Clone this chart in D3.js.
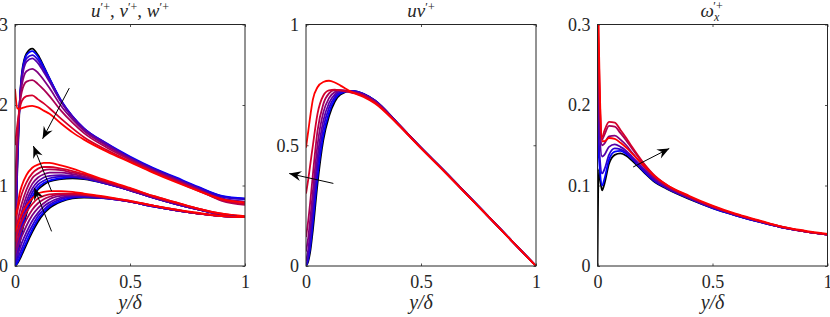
<!DOCTYPE html>
<html>
<head>
<meta charset="utf-8">
<script src="https://cdn.jsdelivr.net/npm/d3@7"></script>
<style>
body { margin: 0; background: #fff; }
svg { display: block; }
text { font-family: "Liberation Serif", "Times New Roman", "DejaVu Serif", serif; fill: #262626; }
</style>
</head>
<body>
<svg id="svg1" width="830" height="317"></svg>
<script>
// wall-normal positions y/delta used for the sampled profiles
var xGrid = [0, 0.01, 0.02, 0.03, 0.05, 0.075, 0.1, 0.125, 0.15, 0.2, 0.25, 0.3, 0.4, 0.5, 0.6, 0.7, 0.8, 0.9, 1];
var wGrid = [0, 0.005, 0.01, 0.02, 0.03, 0.05, 0.075, 0.1, 0.125, 0.15, 0.2, 0.25, 0.3, 0.4, 0.5, 0.6, 0.7, 0.8, 0.9, 1];

// u'+ (one row per case, black first then blue -> red)
var uRms = [
    [0, 1.2, 2.0, 2.4, 2.64, 2.70, 2.62, 2.48, 2.33, 2.05, 1.85, 1.70, 1.51, 1.35, 1.21, 1.09, 0.97, 0.865, 0.835],
    [0, 1.25, 2.0, 2.38, 2.62, 2.67, 2.60, 2.47, 2.33, 2.06, 1.86, 1.71, 1.52, 1.36, 1.22, 1.10, 0.98, 0.87, 0.84],
    [0.1, 1.3, 2.0, 2.35, 2.58, 2.62, 2.56, 2.44, 2.31, 2.05, 1.86, 1.71, 1.52, 1.35, 1.21, 1.09, 0.97, 0.86, 0.83],
    [0.3, 1.4, 2.0, 2.32, 2.54, 2.58, 2.52, 2.41, 2.29, 2.04, 1.85, 1.70, 1.51, 1.34, 1.20, 1.08, 0.96, 0.84, 0.80],
    [0.6, 1.5, 2.0, 2.25, 2.42, 2.45, 2.40, 2.31, 2.21, 1.99, 1.82, 1.68, 1.49, 1.33, 1.19, 1.07, 0.95, 0.82, 0.77],
    [1.0, 1.6, 1.98, 2.17, 2.29, 2.31, 2.26, 2.19, 2.11, 1.93, 1.78, 1.65, 1.47, 1.32, 1.18, 1.06, 0.94, 0.81, 0.76],
    [1.5, 1.75, 1.95, 2.05, 2.11, 2.12, 2.07, 2.02, 1.96, 1.83, 1.71, 1.60, 1.44, 1.30, 1.17, 1.05, 0.93, 0.82, 0.77],
    [2.2, 1.96, 1.95, 1.96, 1.98, 1.99, 1.97, 1.93, 1.89, 1.77, 1.66, 1.57, 1.42, 1.29, 1.16, 1.04, 0.93, 0.83, 0.79]
];

// w'+
var wRms = [
    [0, 0.12, 0.28, 0.42, 0.65, 0.84, 0.95, 1.01, 1.05, 1.08, 1.09, 1.08, 1.02, 0.94, 0.85, 0.77, 0.70, 0.64, 0.61],
    [0, 0.14, 0.31, 0.45, 0.68, 0.86, 0.97, 1.03, 1.06, 1.09, 1.10, 1.09, 1.02, 0.94, 0.85, 0.77, 0.70, 0.64, 0.61],
    [0.05, 0.2, 0.38, 0.52, 0.74, 0.91, 1.01, 1.06, 1.09, 1.11, 1.11, 1.09, 1.02, 0.94, 0.85, 0.77, 0.70, 0.64, 0.61],
    [0.1, 0.28, 0.46, 0.6, 0.8, 0.96, 1.05, 1.10, 1.12, 1.13, 1.12, 1.10, 1.03, 0.94, 0.85, 0.77, 0.70, 0.64, 0.61],
    [0.2, 0.4, 0.56, 0.68, 0.87, 1.02, 1.10, 1.14, 1.16, 1.16, 1.14, 1.11, 1.03, 0.95, 0.86, 0.78, 0.70, 0.64, 0.61],
    [0.3, 0.52, 0.67, 0.78, 0.95, 1.09, 1.15, 1.19, 1.20, 1.19, 1.16, 1.13, 1.04, 0.95, 0.86, 0.78, 0.71, 0.64, 0.61],
    [0.45, 0.67, 0.8, 0.9, 1.04, 1.15, 1.21, 1.23, 1.23, 1.21, 1.18, 1.14, 1.05, 0.96, 0.87, 0.79, 0.71, 0.65, 0.61],
    [0.62, 0.72, 0.9, 1.0, 1.13, 1.22, 1.26, 1.28, 1.28, 1.25, 1.21, 1.16, 1.06, 0.97, 0.87, 0.79, 0.71, 0.65, 0.62]
];

// v'+
var vRms = [
    [0, 0.03, 0.08, 0.14, 0.27, 0.42, 0.55, 0.65, 0.72, 0.80, 0.84, 0.85, 0.84, 0.80, 0.74, 0.69, 0.65, 0.62, 0.61],
    [0, 0.04, 0.10, 0.17, 0.30, 0.45, 0.58, 0.67, 0.74, 0.81, 0.85, 0.86, 0.84, 0.80, 0.74, 0.69, 0.65, 0.62, 0.61],
    [0.03, 0.08, 0.15, 0.22, 0.36, 0.5, 0.62, 0.7, 0.76, 0.83, 0.86, 0.86, 0.84, 0.80, 0.74, 0.69, 0.65, 0.62, 0.61],
    [0.08, 0.14, 0.21, 0.29, 0.42, 0.56, 0.66, 0.74, 0.79, 0.85, 0.87, 0.87, 0.84, 0.80, 0.74, 0.69, 0.65, 0.62, 0.61],
    [0.14, 0.22, 0.3, 0.37, 0.5, 0.63, 0.72, 0.78, 0.83, 0.87, 0.88, 0.88, 0.85, 0.80, 0.75, 0.69, 0.65, 0.62, 0.61],
    [0.22, 0.31, 0.39, 0.46, 0.58, 0.7, 0.78, 0.83, 0.86, 0.89, 0.89, 0.88, 0.85, 0.80, 0.75, 0.70, 0.65, 0.62, 0.61],
    [0.3, 0.4, 0.49, 0.56, 0.67, 0.77, 0.84, 0.87, 0.89, 0.9, 0.9, 0.89, 0.85, 0.81, 0.75, 0.70, 0.65, 0.62, 0.61],
    [0.42, 0.5, 0.58, 0.65, 0.75, 0.84, 0.9, 0.92, 0.93, 0.93, 0.92, 0.9, 0.86, 0.81, 0.75, 0.70, 0.66, 0.62, 0.61]
];

// uv'+
var uvRms = [
    [0, 0.02, 0.07, 0.15, 0.34, 0.52, 0.62, 0.68, 0.71, 0.725, 0.713, 0.685, 0.59, 0.49, 0.395, 0.297, 0.198, 0.099, 0],
    [0, 0.03, 0.09, 0.18, 0.37, 0.54, 0.635, 0.69, 0.715, 0.725, 0.713, 0.685, 0.59, 0.49, 0.395, 0.297, 0.198, 0.099, 0],
    [0, 0.04, 0.12, 0.22, 0.41, 0.57, 0.655, 0.70, 0.72, 0.724, 0.712, 0.684, 0.59, 0.49, 0.395, 0.297, 0.198, 0.099, 0],
    [0.02, 0.07, 0.16, 0.26, 0.45, 0.60, 0.675, 0.71, 0.725, 0.723, 0.711, 0.683, 0.59, 0.49, 0.395, 0.297, 0.198, 0.099, 0],
    [0.06, 0.12, 0.21, 0.31, 0.5, 0.635, 0.695, 0.72, 0.727, 0.721, 0.709, 0.681, 0.589, 0.489, 0.394, 0.296, 0.198, 0.099, 0],
    [0.12, 0.19, 0.28, 0.38, 0.56, 0.67, 0.715, 0.728, 0.728, 0.719, 0.707, 0.679, 0.588, 0.489, 0.394, 0.296, 0.197, 0.099, 0],
    [0.30, 0.36, 0.43, 0.5, 0.63, 0.705, 0.727, 0.73, 0.727, 0.717, 0.704, 0.677, 0.587, 0.488, 0.393, 0.296, 0.197, 0.098, 0],
    [0.49, 0.56, 0.63, 0.69, 0.74, 0.762, 0.767, 0.76, 0.747, 0.72, 0.70, 0.673, 0.585, 0.487, 0.392, 0.295, 0.197, 0.098, 0]
];

// omega_x'+ (sampled on wGrid)
var omRms = [
    [0, 0.12, 0.11, 0.094, 0.102, 0.127, 0.138, 0.140, 0.137, 0.131, 0.117, 0.104, 0.096, 0.083, 0.072, 0.063, 0.055, 0.048, 0.043, 0.039],
    [0.17, 0.14, 0.12, 0.100, 0.108, 0.132, 0.142, 0.143, 0.139, 0.133, 0.118, 0.105, 0.097, 0.084, 0.072, 0.063, 0.055, 0.048, 0.043, 0.039],
    [0.2, 0.16, 0.135, 0.115, 0.12, 0.138, 0.146, 0.145, 0.141, 0.134, 0.119, 0.106, 0.097, 0.084, 0.073, 0.063, 0.055, 0.048, 0.043, 0.039],
    [0.24, 0.19, 0.16, 0.136, 0.138, 0.148, 0.151, 0.148, 0.143, 0.136, 0.121, 0.107, 0.098, 0.085, 0.073, 0.064, 0.056, 0.048, 0.043, 0.039],
    [0.28, 0.22, 0.18, 0.150, 0.152, 0.161, 0.162, 0.157, 0.150, 0.141, 0.124, 0.109, 0.099, 0.085, 0.073, 0.064, 0.056, 0.048, 0.043, 0.039],
    [0.33, 0.25, 0.2, 0.157, 0.163, 0.174, 0.173, 0.165, 0.156, 0.146, 0.127, 0.111, 0.100, 0.086, 0.074, 0.064, 0.056, 0.049, 0.043, 0.039],
    [0.36, 0.27, 0.21, 0.160, 0.168, 0.179, 0.178, 0.169, 0.159, 0.148, 0.128, 0.112, 0.101, 0.086, 0.074, 0.064, 0.056, 0.049, 0.043, 0.039],
    [0.4, 0.29, 0.22, 0.155, 0.155, 0.159, 0.158, 0.153, 0.147, 0.140, 0.125, 0.111, 0.101, 0.087, 0.075, 0.065, 0.057, 0.049, 0.044, 0.040]
];

// tick labels
var xTicks = [0, 0.5, 1];
var yTicksRms = [0, 1, 2, 3];
var yTicksUv = [0, 0.5, 1];
var yTicksOm = [0, 0.1, 0.2, 0.3];

// arrows [x0, y0, x1, y1] in data units, tip at (x1, y1)
var arrowsRms = [[0.236, 2.21, 0.120, 1.58], [0.159, 0.93, 0.080, 1.49], [0.159, 0.43, 0.084, 0.97]];
var arrowsUv = [[0.119, 0.342, -0.073, 0.383]];
var arrowsOm = [[0.155, 0.123, 0.312, 0.146]];

// case colours: black, then blue -> red
var colors = ['#000000', 'rgb(0,0,255)', 'rgb(42,0,212)', 'rgb(85,0,170)', 'rgb(128,0,128)', 'rgb(170,0,85)', 'rgb(212,0,42)', 'rgb(255,0,0)'];

var svg = d3.select('#svg1');

var plotW = 230;
var plotH = 241.5;
var plotTop = 24.5;

var defs = svg.append('defs');
defs.append('marker')
    .attr('id', 'head')
    .attr('viewBox', '-13 -6 14 12')
    .attr('refX', 0).attr('refY', 0)
    .attr('markerWidth', 14).attr('markerHeight', 12)
    .attr('markerUnits', 'userSpaceOnUse')
    .attr('orient', 'auto')
    .append('path')
    .attr('d', 'M0,0 L-12,-5 L-8,0 L-12,5 Z')
    .attr('fill', '#000');

function panel(i, left, yMax, yTicks, grid, families, arrows) {
    var scaleX = d3.scaleLinear().domain([0, 1]).range([0, plotW]);
    var scaleY = d3.scaleLinear().domain([0, yMax]).range([plotH, 0]);

    var g = svg.append('g').attr('transform', 'translate(' + left + ',' + plotTop + ')');

    defs.append('clipPath').attr('id', 'clip' + i)
        .append('rect').attr('width', plotW).attr('height', plotH);

    var fmt = function(d) { return d3.format('')(d); };

    // inward ticks on all four sides
    g.append('g').attr('class', 'x-axis')
        .attr('transform', 'translate(0,' + plotH + ')')
        .call(d3.axisBottom(scaleX).tickValues(xTicks).tickSize(-2.5).tickPadding(9).tickFormat(fmt));
    g.append('g')
        .call(d3.axisTop(scaleX).tickValues(xTicks).tickSize(-2.5).tickFormat(''));
    g.append('g').attr('class', 'y-axis')
        .call(d3.axisLeft(scaleY).tickValues(yTicks).tickSize(-2.5).tickPadding(7).tickFormat(fmt));
    g.append('g').attr('transform', 'translate(' + plotW + ',0)')
        .call(d3.axisRight(scaleY).tickValues(yTicks).tickSize(-2.5).tickFormat(''));

    g.selectAll('.domain').remove();
    g.selectAll('.tick line').attr('stroke', '#262626').attr('stroke-width', 0.8);
    g.selectAll('.tick text').style('font-size', '18px').attr('fill', '#262626');

    var line = d3.line()
        .x(function(d) { return scaleX(d[0]); })
        .y(function(d) { return scaleY(d[1]); })
        .curve(d3.curveMonotoneX);

    var curves = g.append('g').attr('clip-path', 'url(#clip' + i + ')');
    families.forEach(function(fam) {
        fam.forEach(function(vals, k) {
            curves.append('path')
                .datum(vals.map(function(v, j) { return [grid[j], v]; }))
                .attr('d', line)
                .attr('fill', 'none')
                .attr('stroke', colors[k])
                .attr('stroke-width', 1.8);
        });
    });

    g.append('rect')
        .attr('width', plotW).attr('height', plotH)
        .attr('fill', 'none').attr('stroke', '#262626').attr('stroke-width', 1);

    arrows.forEach(function(a) {
        g.append('line')
            .attr('x1', scaleX(a[0])).attr('y1', scaleY(a[1]))
            .attr('x2', scaleX(a[2])).attr('y2', scaleY(a[3]))
            .attr('stroke', '#000').attr('stroke-width', 1)
            .attr('marker-end', 'url(#head)');
    });

    // x label
    g.append('text')
        .attr('x', plotW / 2).attr('y', plotH + 43)
        .attr('text-anchor', 'middle')
        .style('font-size', '20px').style('font-style', 'italic')
        .text('y/δ');

    return g;
}

var g1 = panel(0, 15, 3, yTicksRms, xGrid, [uRms, wRms, vRms], arrowsRms);
var g2 = panel(1, 306, 1, yTicksUv, xGrid, [uvRms], arrowsUv);
var g3 = panel(2, 597.5, 0.3, yTicksOm, wGrid, [omRms], arrowsOm);

// titles
var t1 = g1.append('text').attr('x', plotW / 2).attr('y', -8).attr('text-anchor', 'middle').style('font-size', '19px');
['u', 'v', 'w'].forEach(function(s, k) {
    t1.append('tspan').style('font-style', 'italic').text(s);
    t1.append('tspan').attr('dy', -6).style('font-size', '12px').text('′+');
    if (k < 2) t1.append('tspan').attr('dy', 6).text(', ');
});

var t2 = g2.append('text').attr('x', plotW / 2).attr('y', -8).attr('text-anchor', 'middle').style('font-size', '19px');
t2.append('tspan').style('font-style', 'italic').text('uv');
t2.append('tspan').attr('dy', -6).style('font-size', '12px').text('′+');

// omega with subscript x under the prime
var t3 = g3.append('text').attr('x', plotW / 2 - 12).attr('y', -8).style('font-size', '19px');
t3.append('tspan').style('font-style', 'italic').text('ω');
t3.append('tspan').attr('dy', 4).style('font-size', '12px').style('font-style', 'italic').text('x');
t3.append('tspan').attr('dx', -6).attr('dy', -11).style('font-size', '12px').text('′+');
</script>
</body>
</html>
